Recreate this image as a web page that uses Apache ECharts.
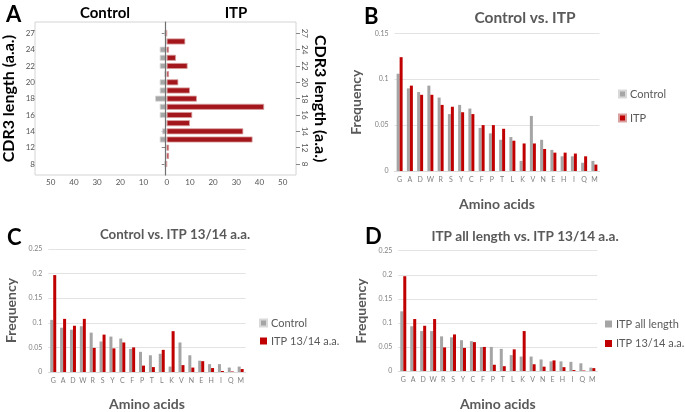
<!DOCTYPE html>
<html lang="en">
<head>
    <meta charset="UTF-8">
    <title>CDR3 length and amino acids</title>
    <script src="https://cdn.jsdelivr.net/npm/echarts@6/dist/echarts.min.js"></script>
    <style>
        body { margin: 0; background: #fff; }
        #main { width: 685px; height: 412px; }
    </style>
</head>
<body>
<div id="main"></div>
<script>
    // panel A: CDR3 length counts (bottom -> top)
    let lengths = ['8', '10', '12', '13', '14', '15', '16', '17', '18', '19', '20', '21', '22', '23', '24', '25', '27'];
    let controlLen = [1, 0, 0, 3, 2, 0, 3, 3, 5, 3, 3, 1, 3, 3, 3, 0, 1];
    let itpLen = [0, 1, 1, 37, 33, 10, 11, 42, 13, 10, 5, 1, 9, 4, 1, 8, 0];

    // panels B-D: amino acid frequency
    let aminos = ['G', 'A', 'D', 'W', 'R', 'S', 'Y', 'C', 'F', 'P', 'T', 'L', 'K', 'V', 'N', 'E', 'H', 'I', 'Q', 'M'];
    let controlFreq = [0.106, 0.090, 0.086, 0.093, 0.080, 0.062, 0.072, 0.068, 0.047, 0.041, 0.034, 0.037, 0.011, 0.060, 0.034, 0.023, 0.016, 0.016, 0.009, 0.011];
    let itpFreq = [0.124, 0.093, 0.083, 0.083, 0.072, 0.070, 0.064, 0.062, 0.050, 0.050, 0.046, 0.033, 0.030, 0.030, 0.024, 0.020, 0.020, 0.019, 0.016, 0.007];
    let itp1314Freq = [0.197, 0.108, 0.094, 0.108, 0.049, 0.076, 0.048, 0.060, 0.050, 0.013, 0.010, 0.045, 0.083, 0.014, 0.009, 0.022, 0.008, 0.002, 0.001, 0.006];

    let font = 'Lato';
    let grayBar = '#a5a5a5';
    let redBar = '#c00000';
    let darkText = '#595959';

    function letter(text, x, y) {
        return {text: text, left: x, top: y, textStyle: {fontFamily: font, fontSize: 22, fontWeight: 'bold', color: '#000'}};
    }
    function heading(text, cx, y, color, size) {
        return {text: text, left: cx, top: y, textAlign: 'center',
            textStyle: {fontFamily: font, fontSize: size, fontWeight: 'bold', color: color}};
    }

    // bar panel axes (B, C, D)
    function freqX(grid, gap) {
        return {
            gridIndex: grid, type: 'category', data: aminos,
            axisLine: {lineStyle: {color: '#d9d9d9'}},
            axisTick: {show: false},
            axisLabel: {fontFamily: font, fontSize: 7, color: '#7f7f7f', margin: 5, interval: 0},
            name: 'Amino acids', nameLocation: 'middle', nameGap: gap,
            nameTextStyle: {fontFamily: font, fontSize: 14, fontWeight: 'bold', color: darkText}
        };
    }
    function freqY(grid, max, gap) {
        return {
            gridIndex: grid, type: 'value', min: 0, max: max, interval: 0.05,
            axisLine: {show: false}, axisTick: {show: false},
            axisLabel: {fontFamily: font, fontSize: 7, color: '#7f7f7f', margin: 6},
            splitLine: {lineStyle: {color: '#e3e3e3'}},
            name: 'Frequency', nameLocation: 'middle', nameGap: gap,
            nameTextStyle: {fontFamily: font, fontSize: 14, fontWeight: 'bold', color: darkText}
        };
    }
    function freqBar(name, data, axis, color) {
        return {
            name: name, type: 'bar', xAxisIndex: axis, yAxisIndex: axis + 1,
            data: data, barWidth: 3, barGap: '0%', itemStyle: {color: color}
        };
    }
    function freqLegend(items, x, y, gap) {
        return {
            orient: 'vertical', left: x, top: y, itemWidth: 7, itemHeight: 7, itemGap: gap,
            icon: 'rect', data: items,
            textStyle: {fontFamily: font, fontSize: 11, lineHeight: 12, color: darkText, padding: [0, 0, 0, -1]}
        };
    }

    let myChart = echarts.init(document.getElementById('main'));
    let option = {
        animation: false,
        title: [
            letter('A', 1, -1),
            heading('Control', 100, 1, '#000', 15),
            heading('ITP', 231, 1, '#000', 15),
            letter('B', 359, 1),
            heading('Control vs. ITP', 520, 5, darkText, 15.5),
            letter('C', 2, 222),
            heading('Control vs. ITP 13/14 a.a.', 170, 223, darkText, 13.3),
            letter('D', 360, 221),
            heading('ITP all length vs. ITP 13/14 a.a.', 520, 225, darkText, 13.6)
        ],
        legend: [
            freqLegend(['Control', {name: 'ITP', itemStyle: {color: redBar}}], 613, 83, 12),
            freqLegend([{name: 'Control', itemStyle: {color: grayBar}}, 'ITP 13/14 a.a.'], 254, 312, 6),
            freqLegend(['ITP all length', {name: 'ITP 13/14 a.a.', itemStyle: {color: redBar}}], 600, 313, 7.5)
        ],
        grid: [
            {left: 35, top: 22, width: 261, height: 153, show: true, borderColor: '#d4d4d4', borderWidth: 1},
            {left: 48.7, top: 29.2, width: 234, height: 138.9},
            {left: 394.5, top: 33.3, width: 205, height: 137.7},
            {left: 48.3, top: 249, width: 197.3, height: 130},
            {left: 398.3, top: 250.7, width: 199, height: 129.6}
        ],
        xAxis: [
            // frame axis, only carries the zero line
            {gridIndex: 0, type: 'value', min: -55.8, max: 55.8, axisLabel: {show: false},
                axisLine: {show: false}, axisTick: {show: false}, splitLine: {show: false}},
            {gridIndex: 1, type: 'value', min: -50, max: 50, interval: 10, offset: 7,
                axisLine: {show: false}, axisTick: {show: false}, splitLine: {show: false},
                axisLabel: {fontFamily: font, fontSize: 8, color: '#555', margin: 3,
                    formatter: function (v) { return Math.abs(v); }}},
            freqX(2, 26),
            freqX(3, 25),
            freqX(4, 26)
        ],
        yAxis: [
            {gridIndex: 0, type: 'value', min: 0, max: 1, z: 10,
                axisLine: {show: true, onZero: true, lineStyle: {color: '#707070', width: 1.2}},
                axisTick: {show: false}, axisLabel: {show: false}, splitLine: {show: false}},
            {gridIndex: 1, type: 'category', data: lengths, position: 'left', offset: 13.7,
                axisLine: {show: false},
                axisTick: {show: true, alignWithLabel: true, interval: 1, length: 5, lineStyle: {color: '#888'}},
                axisLabel: {fontFamily: font, fontSize: 8, color: '#555', margin: 2, interval: 1},
                name: 'CDR3 length (a.a.)', nameLocation: 'middle', nameGap: 20,
                nameTextStyle: {fontFamily: font, fontSize: 16, fontWeight: 'bold', color: '#000'}},
            {gridIndex: 1, type: 'category', data: lengths, position: 'right', offset: 13.3,
                axisLine: {show: false},
                axisTick: {show: true, alignWithLabel: true, interval: 1, length: 4, lineStyle: {color: '#888'}},
                axisLabel: {fontFamily: font, fontSize: 8, color: '#555', margin: 5, interval: 1, rotate: -90},
                name: 'CDR3 length (a.a.)', nameLocation: 'middle', nameGap: 16, nameRotate: -90,
                nameTextStyle: {fontFamily: font, fontSize: 16, fontWeight: 'bold', color: '#000'}},
            freqY(2, 0.15, 31),
            freqY(3, 0.25, 30),
            freqY(4, 0.25, 30)
        ],
        series: [
            {name: 'Control', type: 'bar', xAxisIndex: 1, yAxisIndex: 1, barWidth: 6, barGap: '-100%',
                data: controlLen.map(function (v) { return -v; }),
                itemStyle: {color: '#a6a6a6', borderColor: '#d9d9d9', borderWidth: 0.8}},
            {name: 'ITP', type: 'bar', xAxisIndex: 1, yAxisIndex: 1, barWidth: 6, barGap: '-100%',
                data: itpLen, itemStyle: {color: '#a3161c', borderColor: '#d9a0a0', borderWidth: 0.8}},
            freqBar('Control', controlFreq, 2, grayBar),
            freqBar('ITP', itpFreq, 2, redBar),
            freqBar('Control', controlFreq, 3, grayBar),
            freqBar('ITP 13/14 a.a.', itp1314Freq, 3, redBar),
            freqBar('ITP all length', itpFreq, 4, grayBar),
            freqBar('ITP 13/14 a.a.', itp1314Freq, 4, redBar)
        ]
    };
    myChart.setOption(option);
</script>
</body>
</html>
